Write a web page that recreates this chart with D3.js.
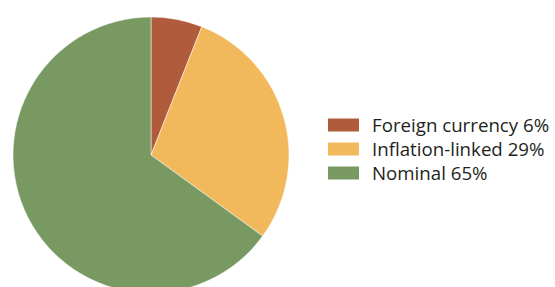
<!DOCTYPE html>
<html>
<head>
<meta charset="utf-8">
<script src="https://cdn.jsdelivr.net/npm/d3@7"></script>
<style>
  body { margin: 0; background: #fff; }
  svg { display: block; }
  .legend text { font-family: "Open Sans", sans-serif; font-size: 18.7px; fill: #231f20; }
</style>
</head>
<body>
<div id="chart"></div>
<script>
var categories = ["Foreign currency", "Inflation-linked", "Nominal"];
var shares = [6, 29, 65];
var colours = ["#b05c3c", "#f2b95c", "#789a62"];

var width = 555, height = 287;
var cx = 151, cy = 155, radius = 138;

var svg = d3.select("#chart").append("svg")
  .attr("width", width)
  .attr("height", height);

var data = categories.map(function(c, i){
  return {name: c, value: shares[i], colour: colours[i]};
});

var pie = d3.pie()
  .sort(null)
  .value(d => d.value);

var arc = d3.arc()
  .innerRadius(0)
  .outerRadius(radius);

var g = svg.append("g")
  .attr("transform", `translate(${cx},${cy})`);

g.selectAll("path.slice")
  .data(pie(data))
  .enter()
  .append("path")
  .attr("class", "slice")
  .attr("d", arc)
  .style("fill", d => d.data.colour)
  .style("stroke", "#fff")
  .style("stroke-width", 0.5);

// legend
var legend = svg.append("g")
  .attr("class", "legend")
  .attr("transform", "translate(328,125)");

var rowH = 24;

var rows = legend.selectAll("g.row")
  .data(data)
  .enter()
  .append("g")
  .attr("class", "row")
  .attr("transform", (d, i) => `translate(0,${i*rowH})`);

rows.append("rect")
  .attr("x", 0)
  .attr("y", -6.5)
  .attr("width", 31)
  .attr("height", 13)
  .style("fill", d => d.colour);

rows.append("text")
  .attr("x", 44)
  .attr("y", 0)
  .attr("dy", "0.36em")
  .text(d => d.name + " " + d.value + "%");
</script>
</body>
</html>
